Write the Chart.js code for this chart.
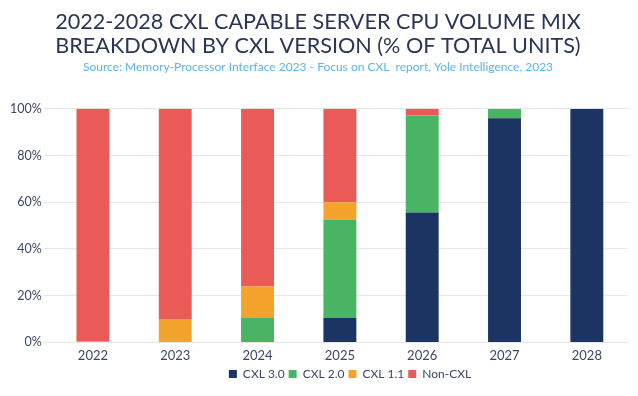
<!DOCTYPE html>
<html>
<head>
<meta charset="utf-8">
<script src="https://cdn.jsdelivr.net/npm/chart.js@4/dist/chart.umd.min.js"></script>
<style>
  html, body { margin: 0; padding: 0; background: #fff; }
  #wrap { width: 638px; height: 396px; }
</style>
</head>
<body>
<div id="wrap"><canvas id="myChart"></canvas></div>
<script>
// data (% of total units)
const years = ['2022', '2023', '2024', '2025', '2026', '2027', '2028'];
const cxl30 = [0, 0, 0, 10.4, 55.6, 96, 100];
const cxl20 = [0, 0, 10.4, 42.2, 41.5, 4, 0];
const cxl11 = [0.6, 10, 13.5, 7.4, 0, 0, 0];
const nonCxl = [99.4, 90, 76.1, 40, 2.9, 0, 0];
const yTicks = [0, 20, 40, 60, 80, 100];

const textCol = '#3b4766';

// legend in the original sits a bit right of centre and tight under the labels
const legendShift = {
  id: 'legendShift',
  beforeDraw(chart) {
    const lg = chart.legend;
    if (!lg._shifted) {
      lg.left += 32;
      lg.right += 32;
      lg.top -= 6;
      lg.bottom -= 6;
      lg._shifted = true;
    }
  }
};

var ctx = document.getElementById('myChart').getContext('2d');
var myChart = new Chart(ctx, {
  type: 'bar',
  data: {
    labels: years,
    datasets: [
      { label: 'CXL 3.0', data: cxl30, backgroundColor: '#1b3461' },
      { label: 'CXL 2.0', data: cxl20, backgroundColor: '#49b463' },
      { label: 'CXL 1.1', data: cxl11, backgroundColor: '#f4a32d' },
      { label: 'Non-CXL', data: nonCxl, backgroundColor: '#ea5b57' }
    ]
  },
  options: {
    responsive: true,
    maintainAspectRatio: false,
    animation: false,
    layout: { padding: { left: 8, right: 10, top: 4, bottom: 0 } },
    datasets: { bar: { barPercentage: 0.4, categoryPercentage: 1 } },
    scales: {
      x: {
        stacked: true,
        grid: { display: false, drawTicks: false },
        border: { display: false },
        ticks: { color: textCol, font: { family: 'Lato', size: 13 }, padding: 6 }
      },
      y: {
        stacked: true,
        min: 0,
        max: 100,
        afterBuildTicks: (axis) => { axis.ticks = yTicks.map(v => ({ value: v })); },
        grid: { color: '#e6e6e6', tickLength: 8 },
        border: { display: false },
        ticks: {
          color: textCol,
          font: { family: 'Lato', size: 12.5 },
          padding: 2,
          callback: (v) => v + '%'
        }
      }
    },
    plugins: {
      title: {
        display: true,
        text: ['2022-2028 CXL CAPABLE SERVER CPU VOLUME MIX', 'BREAKDOWN BY CXL VERSION (% OF TOTAL UNITS)'],
        color: '#2a3656',
        font: { family: 'Lato', size: 21.6, weight: 'normal', lineHeight: 1.12 },
        padding: { top: 6, bottom: 2 }
      },
      subtitle: {
        display: true,
        text: 'Source: Memory-Processor Interface 2023 - Focus on CXL  report, Yole Intelligence, 2023',
        color: '#5ab4e2',
        font: { family: 'Lato', size: 12 },
        padding: { bottom: 34 }
      },
      legend: {
        position: 'bottom',
        labels: {
          color: textCol,
          font: { family: 'Lato', size: 12 },
          boxWidth: 8,
          boxHeight: 8,
          padding: 4
        }
      },
      tooltip: { enabled: false }
    }
  },
  plugins: [legendShift]
});
</script>
</body>
</html>
